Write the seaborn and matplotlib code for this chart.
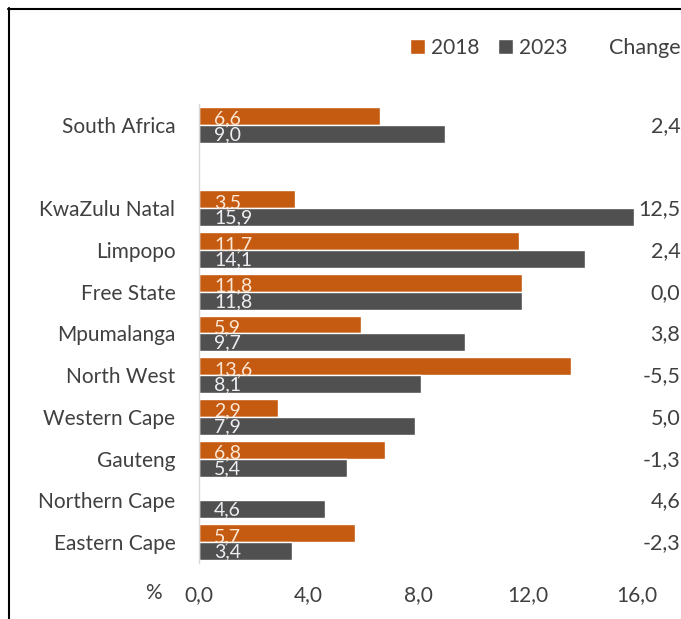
import matplotlib
matplotlib.use("Agg")
import matplotlib.pyplot as plt
from matplotlib.lines import Line2D
import numpy as np
import pandas as pd
import seaborn as sns

# Regions, top to bottom; the empty name leaves a blank row under the national figure
regions = ["South Africa", "", "KwaZulu Natal", "Limpopo", "Free State", "Mpumalanga",
           "North West", "Western Cape", "Gauteng", "Northern Cape", "Eastern Cape"]
values_2018 = [6.6, np.nan, 3.5, 11.7, 11.8, 5.9, 13.6, 2.9, 6.8, np.nan, 5.7]
values_2023 = [9.0, np.nan, 15.9, 14.1, 11.8, 9.7, 8.1, 7.9, 5.4, 4.6, 3.4]
change = ["2,4", "", "12,5", "2,4", "0,0", "3,8", "-5,5", "5,0", "-1,3", "4,6", "-2,3"]
years = ["2018", "2023"]
x_ticks = [0.0, 4.0, 8.0, 12.0, 16.0]

ORANGE = "#C55A11"
GREY = "#505050"
TEXT = "#404040"
LABEL_COLOURS = ["#FCE6D4", "#ECEEF2"]

df = pd.DataFrame({
    "region": regions * 2,
    "value": values_2018 + values_2023,
    "year": [years[0]] * len(regions) + [years[1]] * len(regions),
})

sns.set_theme(style="white")
plt.rcParams["font.family"] = ["Lato", "DejaVu Sans"]

W, H = 681, 619
fig = plt.figure(figsize=(W / 100, H / 100), dpi=100)
ax = fig.add_axes([199 / W, 1 - 563 / H, (637 - 199) / W, (563 - 104) / H])

sns.barplot(data=df, y="region", x="value", hue="year", order=regions,
            hue_order=years, palette=[ORANGE, GREY], orient="h", width=0.86,
            saturation=1, errorbar=None, ax=ax)

ax.set_xlim(0, 16)
ax.set_ylim(len(regions) - 0.5, -0.5)
ax.set_xlabel("")
ax.set_ylabel("")

# Value labels sit near the base of each bar
fmt = lambda v: f"{v:.1f}".replace(".", ",")
for container, vals, col, dy in zip(ax.containers, [values_2018, values_2023],
                                    LABEL_COLOURS, [0.08, 0.02]):
    for patch, v in zip(container.patches, [v for v in vals if not np.isnan(v)]):
        yc = patch.get_y() + patch.get_height() / 2
        ax.text(0.55, yc + dy, fmt(v), color=col, fontsize=14,
                va="center", ha="left")

ax.set_xticks(x_ticks)
ax.set_xticklabels([fmt(t) for t in x_ticks], fontsize=15, color=TEXT)
ax.tick_params(axis="x", length=0, pad=16)
ax.tick_params(axis="y", length=0, pad=17, labelsize=15, labelcolor=TEXT)

for side in ["top", "right", "bottom"]:
    ax.spines[side].set_visible(False)
ax.spines["left"].set_color("#D9D9D9")
ax.spines["left"].set_linewidth(1.0)

# Change column on the right edge
for i, c in enumerate(change):
    if c:
        fig.text(0.999, 1 - (126 + i * 41.7) / H, c, ha="right", va="center",
                 fontsize=15.5, color=TEXT)
fig.text(0.999, 1 - 48 / H, "Change", ha="right", va="center", fontsize=15.5, color=TEXT)

# Percent marker beside the x tick labels
fig.text(153 / W, 1 - 593 / H, "%", ha="center", va="center", fontsize=15, color=TEXT)

# Legend
sns.move_legend(ax, loc="center", bbox_to_anchor=(489 / W, 1 - 48 / H),
                bbox_transform=fig.transFigure, ncol=2, frameon=False, title=None,
                fontsize=15, handlelength=0.7, handleheight=0.7,
                handletextpad=0.3, columnspacing=0.9)
for t in ax.get_legend().get_texts():
    t.set_color(TEXT)

# Frame lines along the left and top of the figure
fig.add_artist(Line2D([8.5 / W, 8.5 / W], [0, 1 - 8 / H], transform=fig.transFigure,
                      color="black", linewidth=1.5))
fig.add_artist(Line2D([8 / W, 1], [1 - 8.5 / H, 1 - 8.5 / H], transform=fig.transFigure,
                      color="black", linewidth=1.5))

fig.savefig("out.png", dpi=100)
